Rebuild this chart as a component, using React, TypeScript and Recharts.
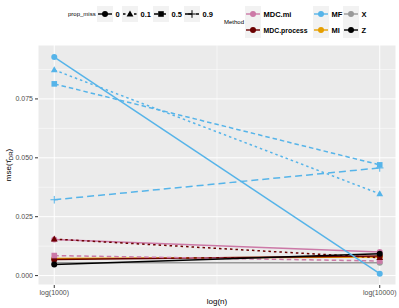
import { LineChart, Line, XAxis, YAxis, CartesianGrid, ReferenceLine } from "recharts";

const nValues = [1000, 10000];
const nLabels = ["log(1000)", "log(10000)"];
const yTicks = [0, 0.025, 0.05, 0.075];
const propLevels = ["0", "0.1", "0.5", "0.9"];
const methodsCol1 = ["MDC.mi", "MDC.process"];
const methodsCol2 = ["MF", "MI"];
const methodsCol3 = ["X", "Z"];

// mse at n = 1000 and n = 10000
const mdcMi0 = [0.0153, 0.01];
const mdcMi05 = [0.0085, 0.0062];
const mdcProc0 = [0.0068, 0.0083];
const mdcProc01 = [0.0155, 0.0076];
const mi0 = [0.0072, 0.0079];
const x0 = [0.0055, 0.0055];
const z0 = [0.0047, 0.0093];
const mf0 = [0.0928, 0.0008];
const mf01 = [0.0873, 0.0347];
const mf05 = [0.0814, 0.047];
const mf09 = [0.0322, 0.0457];

const colors: Record<string, string> = {
  "MDC.mi": "#CC79A7",
  "MDC.process": "#6B0000",
  MF: "#56B4E9",
  MI: "#E69F00",
  X: "#999999",
  Z: "#000000",
};
const dashes: Record<string, string | undefined> = {
  "0": undefined,
  "0.1": "2.5 3",
  "0.5": "4.5 3",
  "0.9": "7 4",
};
const shapes: Record<string, string> = {
  "0": "circle",
  "0.1": "triangle",
  "0.5": "square",
  "0.9": "plus",
};

const series = [
  { key: "xP0", method: "X", prop: "0", values: x0 },
  { key: "miP0", method: "MI", prop: "0", values: mi0 },
  { key: "mdcProcP0", method: "MDC.process", prop: "0", values: mdcProc0 },
  { key: "mdcMiP05", method: "MDC.mi", prop: "0.5", values: mdcMi05 },
  { key: "mdcMiP0", method: "MDC.mi", prop: "0", values: mdcMi0 },
  { key: "mdcProcP01", method: "MDC.process", prop: "0.1", values: mdcProc01 },
  { key: "zP0", method: "Z", prop: "0", values: z0 },
  { key: "mfP09", method: "MF", prop: "0.9", values: mf09 },
  { key: "mfP05", method: "MF", prop: "0.5", values: mf05 },
  { key: "mfP01", method: "MF", prop: "0.1", values: mf01 },
  { key: "mfP0", method: "MF", prop: "0", values: mf0 },
];

const logN = nValues.map((n) => Math.log(n));
const data = logN.map((x, i) => {
  const row: Record<string, number> = { x };
  series.forEach((s) => (row[s.key] = s.values[i]));
  return row;
});

const font = "'Liberation Sans', Arial, sans-serif";

function Marker({ cx, cy, shape, color }: { cx?: number; cy?: number; shape: string; color: string }) {
  if (cx == null || cy == null) return null;
  if (shape === "circle") return <circle cx={cx} cy={cy} r={3} fill={color} />;
  if (shape === "triangle")
    return <polygon points={`${cx},${cy - 3.6} ${cx - 3.4},${cy + 2.4} ${cx + 3.4},${cy + 2.4}`} fill={color} />;
  if (shape === "square") return <rect x={cx - 2.8} y={cy - 2.8} width={5.6} height={5.6} fill={color} />;
  return (
    <g stroke={color} strokeWidth={1}>
      <line x1={cx - 3.8} y1={cy} x2={cx + 3.8} y2={cy} />
      <line x1={cx} y1={cy - 3.8} x2={cx} y2={cy + 3.8} />
    </g>
  );
}

function YLabel() {
  return (
    <text x={11} y={165} transform="rotate(-90 11 165)" textAnchor="middle" fontSize={8} fontFamily={font} fill="#000">
      mse(τ̂<tspan fontSize={6} dy={2}>DR</tspan>
      <tspan dy={-2}>)</tspan>
    </text>
  );
}

function KeyBox({ x, y, color, shape, dash }: { x: number; y: number; color: string; shape: string; dash?: string }) {
  return (
    <g>
      <rect x={x} y={y} width={16} height={16} fill="#F2F2F2" />
      <line x1={x + 1} y1={y + 8} x2={x + 15} y2={y + 8} stroke={color} strokeWidth={1.4} strokeDasharray={dash} />
      <Marker cx={x + 8} cy={y + 8} shape={shape} color={color} />
    </g>
  );
}

function LegendOverlay() {
  const propX = [97, 122, 153, 184];
  return (
    <svg width={399} height={45} style={{ position: "absolute", left: 0, top: 0 }} fontFamily={font}>
      <text x={68} y={16} fontSize={6} fill="#000">prop_miss</text>
      {propLevels.map((p, i) => (
        <g key={p}>
          <KeyBox x={propX[i]} y={6} color="#000" shape={shapes[p]} dash={dashes[p]} />
          <text x={propX[i] + 18.5} y={16.5} fontSize={7.5} fontWeight="bold">{p}</text>
        </g>
      ))}
      <text x={224} y={24} fontSize={6} fill="#000">Method</text>
      {[methodsCol1, methodsCol2, methodsCol3].map((col, ci) =>
        col.map((m, ri) => {
          const kx = [245, 313, 343][ci];
          const ky = 6 + ri * 16;
          return (
            <g key={m}>
              <KeyBox x={kx} y={ky} color={colors[m]} shape="circle" />
              <text
                x={kx + 18.5}
                y={ky + 10.5}
                fontSize={7.5}
                fontWeight="bold"
                {...(m === "MDC.process" ? { textLength: 44, lengthAdjust: "spacingAndGlyphs" } : {})}
              >
                {m}
              </text>
            </g>
          );
        })
      )}
    </svg>
  );
}

export default function App() {
  return (
    <div style={{ position: "absolute", left: 0, top: 0, width: 399, height: 308, background: "#fff" }}>
      <LineChart width={399} height={308} data={data} margin={{ top: 45, right: 3, bottom: 0, left: 0 }}>
        <CartesianGrid fill="#EBEBEB" stroke="#FFFFFF" strokeWidth={1} />
        {[0.0125, 0.0375, 0.0625, 0.0875].map((v) => (
          <ReferenceLine key={v} y={v} stroke="#FFFFFF" strokeWidth={0.5} />
        ))}
        <ReferenceLine x={(logN[0] + logN[1]) / 2} stroke="#FFFFFF" strokeWidth={0.5} />
        <XAxis
          type="number"
          dataKey="x"
          domain={[6.7927, 9.3254]}
          ticks={logN}
          tickFormatter={(v: number) => nLabels[logN.findIndex((l) => Math.abs(l - v) < 1e-6)]}
          allowDataOverflow
          axisLine={false}
          tickLine={{ stroke: "#333333" }}
          tickSize={3}
          height={23}
          tick={{ fontSize: 7, fill: "#4D4D4D", fontFamily: font }}
          label={{ value: "log(n)", position: "insideBottom", offset: 4, fontSize: 8, fill: "#000", fontFamily: font }}
        />
        <YAxis
          type="number"
          domain={[-0.004, 0.0979]}
          ticks={yTicks}
          allowDataOverflow
          tickFormatter={(v: number) => v.toFixed(3)}
          axisLine={false}
          tickLine={{ stroke: "#333333" }}
          tickSize={3}
          width={38}
          tick={{ fontSize: 7, fill: "#4D4D4D", fontFamily: font }}
          label={<YLabel />}
        />
        {series.map((s) => (
          <Line
            key={s.key}
            dataKey={s.key}
            type="linear"
            stroke={colors[s.method]}
            strokeWidth={1.5}
            strokeDasharray={dashes[s.prop]}
            isAnimationActive={false}
            dot={(p: any) => (
              <Marker key={`${s.key}-${p.index}`} cx={p.cx} cy={p.cy} shape={shapes[s.prop]} color={colors[s.method]} />
            )}
            activeDot={false}
          />
        ))}
      </LineChart>
      <LegendOverlay />
    </div>
  );
}
